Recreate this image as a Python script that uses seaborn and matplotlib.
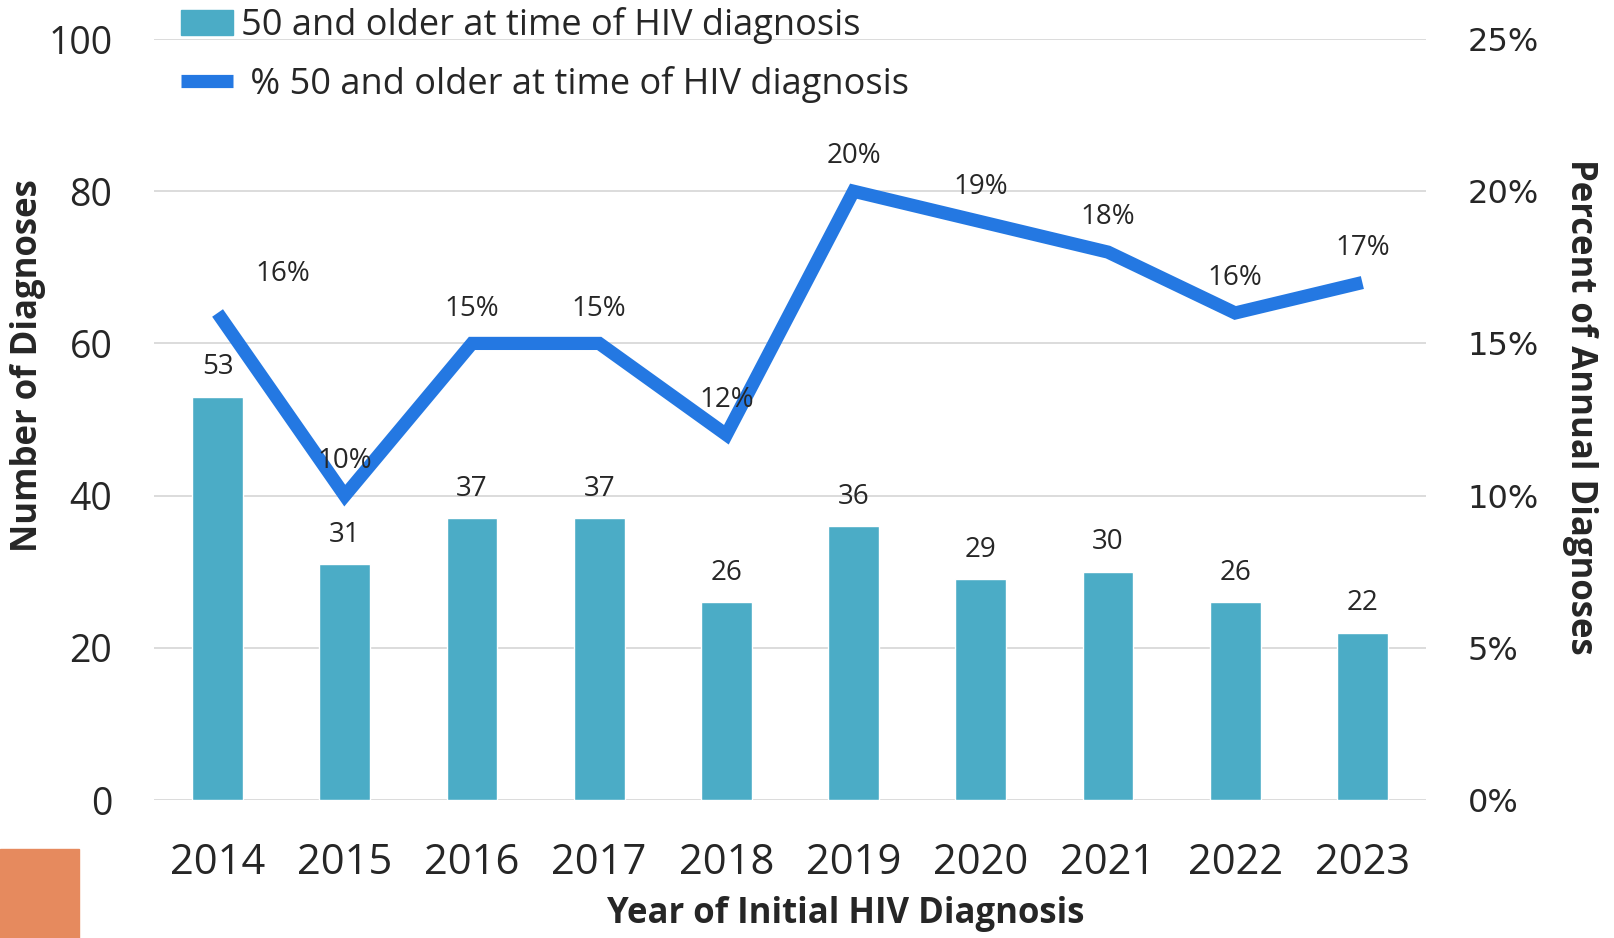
import numpy as np
import pandas as pd
import matplotlib
matplotlib.use('Agg')
import matplotlib.pyplot as plt
import seaborn as sns
from matplotlib.patches import Rectangle
from matplotlib.lines import Line2D

years = ['2014', '2015', '2016', '2017', '2018', '2019', '2020', '2021', '2022', '2023']
count_50plus = [53, 31, 37, 37, 26, 36, 29, 30, 26, 22]
pct_50plus = [16, 10, 15, 15, 12, 20, 19, 18, 16, 17]

bar_name = '50 and older at time of HIV diagnosis'
line_name = ' % 50 and older at time of HIV diagnosis'

df = pd.DataFrame({'year': years, 'count': count_50plus, 'pct': pct_50plus})

sns.set_theme(style='white')
plt.rcParams['font.family'] = ['Open Sans', 'DejaVu Sans']

bar_color = '#4BACC6'
line_color = '#2478E2'
grid_color = '#D9D9D9'

fig = plt.figure(figsize=(16.14, 9.38), dpi=100)
ax = fig.add_axes([0.0954, 0.1471, 0.7881, 0.8113])

sns.barplot(data=df, x='year', y='count', color=bar_color, width=0.4,
            saturation=1, ax=ax, zorder=2)
ax.bar_label(ax.containers[0], padding=11, fontsize=20)

ax.set_ylim(0, 100)
ax.set_xlim(-0.5, len(years) - 0.5)
ax.set_yticks([0, 20, 40, 60, 80, 100])
ax.yaxis.grid(True, color=grid_color, lw=1.3, zorder=0)
ax.set_axisbelow(True)
for s in ax.spines.values():
    s.set_visible(False)
ax.tick_params(axis='x', length=0, pad=30, labelsize=30)
ax.tick_params(axis='y', length=0, pad=30, labelsize=27)
ax.set_xlabel('')
ax.set_ylabel('Number of Diagnoses', fontsize=25, fontweight='bold')
ax.yaxis.set_label_coords(-0.085, 0.571)

ax2 = ax.twinx()
sns.pointplot(data=df, x='year', y='pct', color=line_color, errorbar=None,
              marker='', linewidth=9.5, ax=ax2)
for ln in ax2.lines:
    ln.set_solid_joinstyle('miter')
    ln.set_solid_capstyle('butt')
ax2.set_ylim(0, 25)
ax2.set_xlim(-0.5, len(years) - 0.5)
ax2.set_yticks([0, 5, 10, 15, 20, 25])
ax2.set_yticklabels([f'{v}%' for v in [0, 5, 10, 15, 20, 25]])
ax2.tick_params(axis='y', length=0, pad=30, labelsize=23)
for t in ax2.get_yticklabels():
    t.set_family(['DejaVu Sans'])
for s in ax2.spines.values():
    s.set_visible(False)
ax2.grid(False)
ax2.set_xlabel('')
ax2.set_ylabel('Percent of Annual Diagnoses', fontsize=25, fontweight='bold',
               rotation=-90, labelpad=0)
ax2.yaxis.set_label_coords(1.135, 0.517)

for i, v in enumerate(pct_50plus):
    off = (47, 28) if i == 0 else (0, 25)
    ax2.annotate(f'{v}%', (i, v), xytext=off, textcoords='offset points',
                 ha='center', va='center', fontsize=20)

fig.text(0.524, 0.026, 'Year of Initial HIV Diagnosis', ha='center', va='center',
         fontsize=25, fontweight='bold')

handles = [Rectangle((0, 0), 1, 1, color=bar_color),
           Line2D([0], [0], color=line_color, lw=9.5, solid_capstyle='butt')]
fig.legend(handles, [bar_name, line_name], loc='upper left',
           bbox_to_anchor=(0.092, 1.027), frameon=False, fontsize=26,
           handlelength=1.45, handletextpad=0.2, labelspacing=0.6)

fig.patches.append(Rectangle((0, 0), 79 / 1614, 89 / 938, transform=fig.transFigure,
                             color='#E68A5E', zorder=0))

plt.savefig('out.png', dpi=100)
